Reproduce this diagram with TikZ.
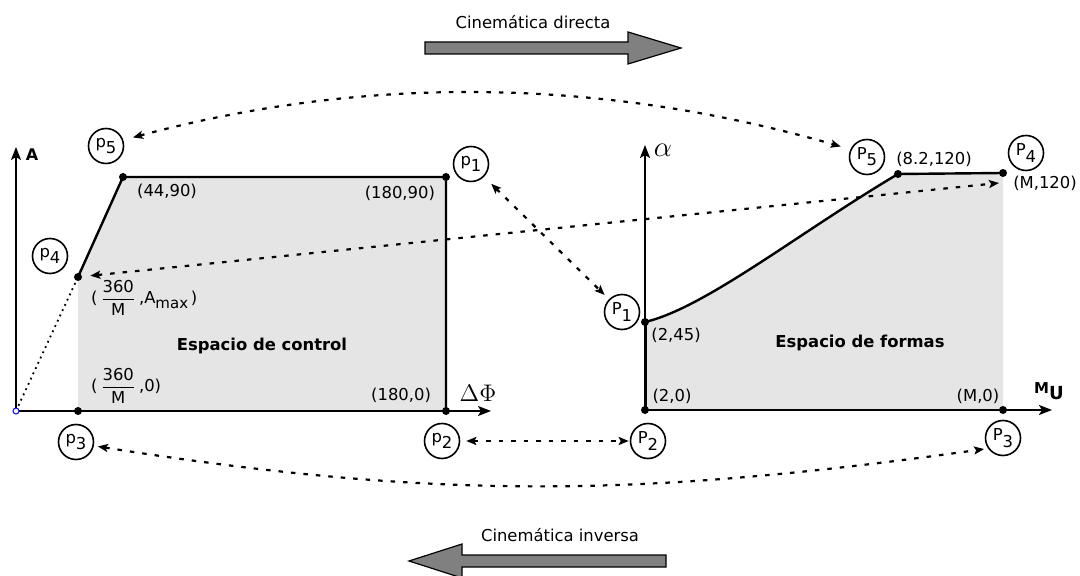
\documentclass[tikz,border=0pt]{standalone}
\usepackage{amsmath}
\usepackage{fontspec}
\setmainfont{DejaVu Sans}
\usetikzlibrary{arrows.meta,positioning}

\newcommand{\subp}[2]{#1\raisebox{-0.7ex}{#2}}

\begin{document}
\begin{tikzpicture}[x=0.5pt, y=-0.5pt,
  every node/.style={font=\fontsize{8.2}{10}\selectfont},
  punto/.style={circle, fill=black, inner sep=0pt, minimum size=4pt},
  marca/.style={circle, draw=black, line width=0.8pt, inner sep=0pt, minimum size=17.5pt},
  titulo/.style={font=\bfseries\fontsize{8.2}{10}\selectfont},
  eje/.style={line width=1pt, -{Stealth[length=6.5pt, width=5pt, inset=1.5pt]}},
  borde/.style={line width=1.2pt},
  enlace/.style={line width=1.1pt, dash pattern=on 2.25pt off 4pt,
    {Stealth[length=5pt, width=4pt, inset=1pt]}-{Stealth[length=5pt, width=4pt, inset=1pt]}},
  bloque/.style={draw=black, line width=0.6pt, fill=black!50}]

\useasboundingbox (0,0) rectangle (1080,576);

% Vertices de las dos regiones
\foreach \i/\x/\y in {1/446/177, 2/446/411, 3/78/411, 4/78/277, 5/123/177} {
  \coordinate (c\i) at (\x,\y);
}
\foreach \i/\x/\y in {1/645/322, 2/645/410, 3/1003/410, 4/1003/173, 5/898/174} {
  \coordinate (f\i) at (\x,\y);
}

% Zonas sombreadas
\fill[black!10] (c3) -- (c4) -- (c5) -- (c1) -- (c2) -- cycle;
\fill[black!10] (f2) -- (f1) .. controls (705,308) and (800,232) .. (f5) -- (f4) -- (f3) -- cycle;

% Ejes
\coordinate (o1) at (16,411);
\coordinate (ejeA) at (16,147);
\coordinate (ejeD) at (491,411);
\coordinate (o2) at (645,410);
\coordinate (ejeal) at (645,145);
\coordinate (ejeM) at (1052,410);
\draw[eje] (o1) -- (ejeA);
\draw[eje] (o1) -- (ejeD);
\draw[eje] (o2) -- (ejeal);
\draw[eje] (o2) -- (ejeM);

% Bordes
\draw[borde] (c4) -- (c5) -- (c1) -- (c2);
\draw[borde, line width=1.5pt] (f2) -- (f1);
\draw[borde] (f1) .. controls (705,308) and (800,232) .. (f5) -- (f4);
\draw[dotted, line width=0.9pt] (o1) -- (c4);

% Puntos
\foreach \i in {1,...,5} {
  \node[punto] (dc\i) at (c\i) {};
  \node[punto] (df\i) at (f\i) {};
}
\node[circle, draw=blue, fill=white, inner sep=0pt, minimum size=3pt, line width=0.5pt] (orig) at (o1) {};

% Etiquetas del espacio de control
\node[titulo, font=\bfseries\fontsize{8}{10}\selectfont] (nA) at (32,155) {A};
\node (nD) at (478,393) {\fontsize{12}{14}\selectfont$\Delta\Phi$};
\node (l5) at (167,191) {(44,90)};
\node[anchor=east] (l1) at (442,193) {(180,90)};
\node[anchor=west] (l4) at (84,298) {(\,$\dfrac{\text{360}}{\text{M}}$\,,A\raisebox{-0.5ex}{\fontsize{7.5}{9}\selectfont max}\,)};
\node[anchor=west] (l3) at (84,386) {(\,$\dfrac{\text{360}}{\text{M}}$\,,0)};
\node[anchor=east] (l2) at (438,395) {(180,0)};
\node[titulo] (ctrl) at (262,346) {Espacio de control};

% Etiquetas del espacio de formas
\node (nal) at (663,150) {\fontsize{14}{16}\selectfont$\alpha$};
\node (nM) at (1049,391) {\bfseries\fontsize{7.5}{9}\selectfont M\raisebox{-0.8ex}{\fontsize{9}{11}\selectfont U}};
\node (m5) at (934,159) {(8.2,120)};
\node (m4) at (1045,183) {(M,120)};
\node (m1) at (676,335) {(2,45)};
\node (m2) at (672,396) {(2,0)};
\node (m3) at (978,396) {(M,0)};
\node[titulo] (form) at (860,343) {Espacio de formas};

% Marcas p_i y P_i
\foreach \i/\x/\y in {1/471/164, 2/442/441, 3/76/442, 4/50/256, 5/106/146} {
  \node[marca] (p\i) at (\x,\y) {\subp{p}{\i}};
}
\foreach \i/\x/\y in {1/622/312, 2/648/441, 3/1003/438, 4/1026/153, 5/867/157} {
  \node[marca] (q\i) at (\x,\y) {\subp{P}{\i}};
}

% Correspondencias
\coordinate (e4) at (999,183);
\draw[enlace, shorten <=5pt, shorten >=5pt] (p5.19) to[out=15, in=164, looseness=0.9] (q5.155);
\draw[enlace, shorten <=5pt, shorten >=3pt] (p1) -- (q1);
\draw[enlace, shorten <=4pt] (dc4) -- (e4);
\draw[enlace, shorten <=3pt, shorten >=0.5pt] (p2) -- (q2);
\draw[enlace, shorten <=2pt, shorten >=2pt] (p3.-12) to[out=-9, in=188] (q3.215);

% Flechas grandes
\draw[bloque] (425,42) -- (628,42) -- (628,32) -- (681,48) -- (628,64) -- (628,54) -- (425,54) -- cycle;
\node (directa) at (533,22) {Cinemática directa};
\draw[bloque] (666,555) -- (462,555) -- (462,544) -- (409,561) -- (462,578) -- (462,567) -- (666,567) -- cycle;
\node (inversa) at (560,535) {Cinemática inversa};

\end{tikzpicture}
\end{document}
